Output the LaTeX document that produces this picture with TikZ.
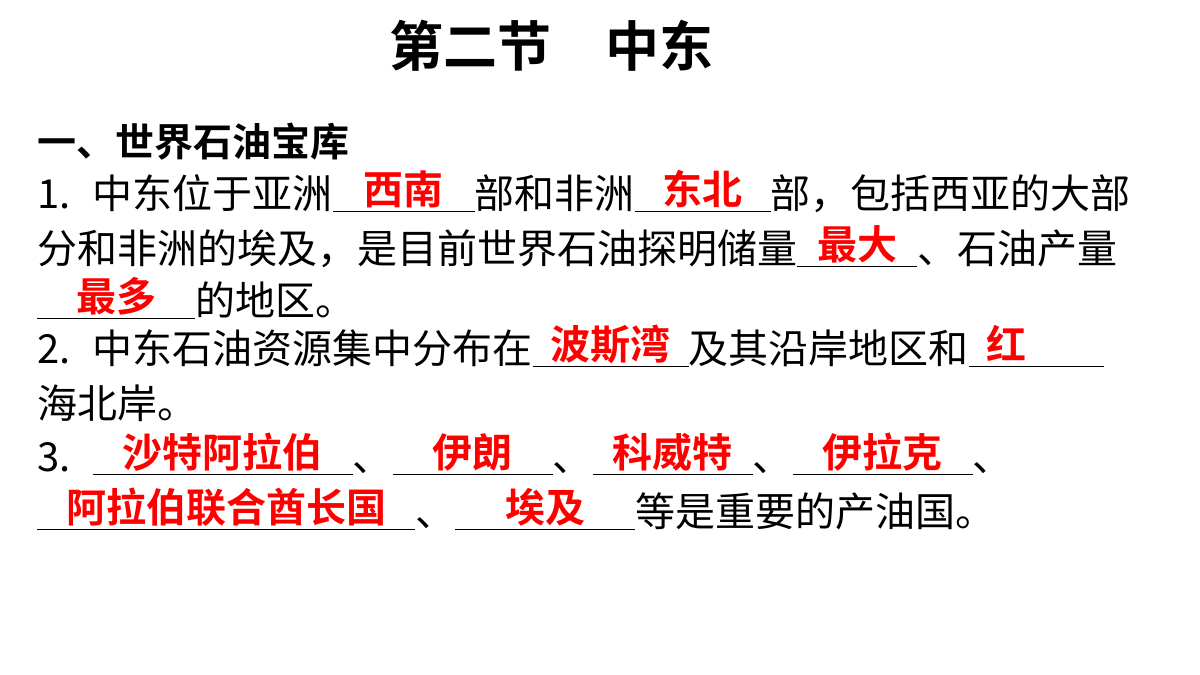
\documentclass[tikz,border=0pt]{standalone}
\usepackage{fontspec}
\setmainfont{Noto Sans CJK SC}[BoldFont={Noto Sans CJK SC Bold}]
\newcommand{\blank}[2]{\rlap{\rule[-3pt]{#1pt}{0.8pt}}\makebox[#1pt]{\raisebox{4pt}{\color{red}\bfseries #2}}}
\tikzset{ln/.style={anchor=base west,inner sep=0pt,font=\fontsize{40}{41}\selectfont}}
\begin{document}
\begin{tikzpicture}[x=1pt,y=1pt]
\useasboundingbox (0,0) rectangle (1200,675);
\fill[white] (0,0) rectangle (1200,675);
\node[inner sep=0pt,font=\fontsize{54}{56}\selectfont\bfseries] (title) at (551,629) {第二节\hspace{54pt}中东};
\node[ln,font=\fontsize{39}{40}\selectfont\bfseries] (h) at (37,518) {一、世界石油宝库};
\node[ln] (l1) at (37,466) {1.\hspace{22pt}中东位于亚洲\blank{142}{西南}部和非洲\blank{136}{东北}部，包括西亚的大部};
\node[ln] (l2) at (37,411) {分和非洲的埃及，是目前世界石油探明储量\blank{120}{最大}、石油产量};
\node[ln] (l3) at (37,359) {\blank{158}{最多}的地区。};
\node[ln] (l4) at (37,311) {2.\hspace{22pt}中东石油资源集中分布在\blank{156}{波斯湾}及其沿岸地区和\blank{135}{\hspace{-60pt}红}};
\node[ln] (l5) at (37,256) {海北岸。};
\node[ln] (l6) at (37,203) {3.\hspace{22pt}\blank{260}{沙特阿拉伯}、\blank{160}{伊朗}、\blank{160}{科威特}、\blank{180}{伊拉克}、};
\node[ln] (l7) at (37,148) {\blank{378}{阿拉伯联合酋长国}、\blank{180}{埃及}等是重要的产油国。};
\end{tikzpicture}
\end{document}
